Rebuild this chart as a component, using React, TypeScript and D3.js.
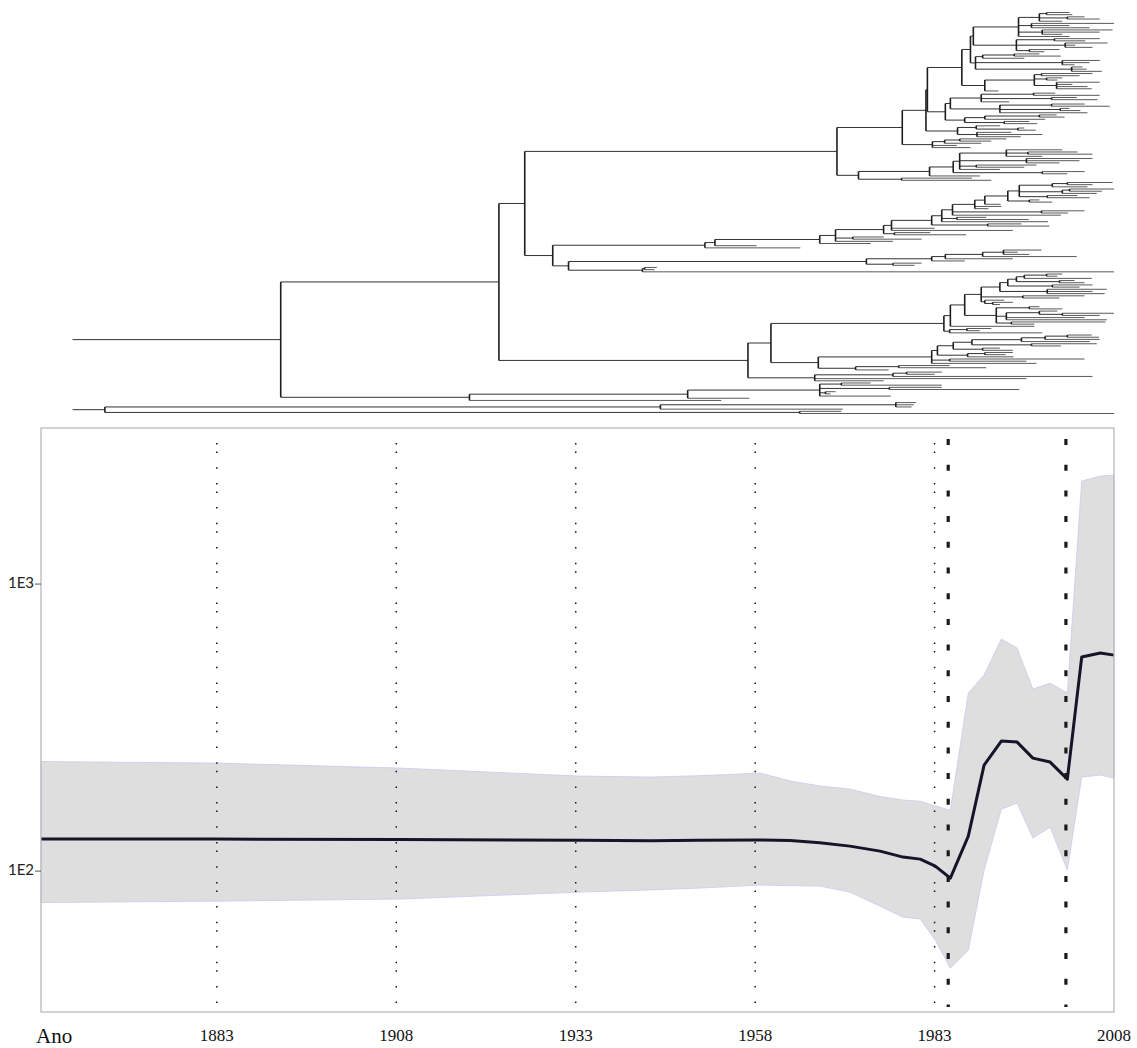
import React from "react";
import * as d3 from "d3";

const WIDTH = 1137;
const HEIGHT = 1048;

// Bayesian skyline: effective population size through time (median and 95% HPD)
const years = [
  1858.5, 1883.0, 1908.5, 1933.6, 1943.4, 1950.3, 1958.7, 1962.9, 1967.0, 1971.2,
  1975.4, 1978.6, 1981.0, 1983.1, 1985.2, 1987.7, 1989.9, 1992.3, 1994.5, 1996.7,
  1999.1, 2001.5, 2003.5, 2006.1, 2008.0,
];
const medianNe = [
  129.3, 129.3, 128.8, 128.0, 127.5, 128.0, 128.3, 127.8, 125.5, 122.2,
  117.4, 111.9, 110.1, 104.1, 94.5, 132.4, 234.0, 283.8, 281.5, 247.6,
  239.8, 209.2, 556.8, 575.0, 565.6,
];
const upperNe = [
  240.8, 237.9, 228.5, 214.3, 212.6, 215.0, 219.5, 206.0, 198.0, 193.1,
  182.0, 176.8, 175.3, 168.5, 163.1, 417.1, 481.8, 643.3, 598.4, 430.6,
  451.9, 417.1, 2285, 2378, 2398,
];
const lowerNe = [
  77.7, 78.6, 79.9, 84.5, 86.0, 87.3, 89.4, 89.0, 88.7, 84.5,
  75.5, 69.1, 68.1, 57.5, 45.9, 53.0, 100.8, 164.4, 172.6, 130.3,
  142.3, 100.8, 212.6, 216.0, 210.9,
];

const yearTicks = [1883, 1908, 1933, 1958, 1983, 2008];
const gridYears = [1883, 1908, 1933, 1958, 1983];
const eventYears = [1984.9, 2001.3];
const neTicks = [1000, 100];
const neTickLabels = ["1E3", "1E2"];
const axisTitle = "Ano";

// Dated phylogeny. Newick-like clades where the number after ':' is the
// calendar year of the node (not a branch length).
const cladeA =
  "((((((:2001.8,:2002.2):1998.6,(:2003.9,:2006.0):2001.5,:2000.8):1997.6,(:2008.0,:2001.8,:2004.6):1996.5,(:2007.8,:2006.0,:2000.8):1998.0,:2001.8):1994.7," +
  "((:2006.0,:2004.0):1999.7,(:2007.1,:2002.6,:2005.0):2001.2,(:2000.4,:1998.3):1996.2):1994.4):1988.4," +
  "(((:1997.6,:2000.6):1994.1,:1995.5):1989.7,(:2006.0,:2004.6,:2002.5):2000.8,(:2003.6,:2004.2,:2006.3):2002.1):1988.7):1988.0," +
  "(((:2005.0,:2003.2):1997.9,(:2000.8,:2000.1):1998.6,(:2006.0,:2002.2,:2004.3,:2004.9):2000.0):1996.9,:1991.9):1990.0):1986.8";
const cladeB =
  "((((:1999.8,:2006.0):1996.8,(:2002.8,:2005.7):1999.3,:1993.4):1989.5,((:2003.9,:2007.4):1999.3,(:2001.8,:2003.3):2000.5,:2004.3):1992.1):1985.2," +
  "(((:2000.0,:2001.1):1997.6,:1998.4):1990.0,(:1996.2,:1997.3):1992.7):1987.2):1984.5";
const cladeB3 = "((:1992.1,(:1995.5,:1997.1):1994.6):1988.8,(:1993.7,:1998.0,:1995.0):1988.9):1986.2";
const cladeN11 = "(((:1993.0,:1990.9):1986.5,:1989.5):1984.4,:1986.1,:1988.0):1982.7";
const cladeC =
  "(((((:2000.8,(:2002.9,:2005.0):1996.0,:1998.0):1993.0,(:2005.0,:2003.2,:2000.4):1995.8,(:1997.2,:1995.5):1988.8,:1992.1):1986.5," +
  "(:2003.9,:2001.5):1998.0):1985.6,:1989.3):1982.3,(:1988.2,:1990.9):1978.4):1972.4";
// ladder-like clade: crown group, then one [node year, side branches] step per level
const cladeDCrown =
  "(((:2007.8,:2005.0):2001.5,:2004.3):1999.4,((:2008.0,:2006.3):2001.8,:2005.6):2000.8,(:2002.9,:2004.6):1998.7):1994.8";
const cladeDSteps: [string, string][] = [
  ["1993.2", "(:1997.6,:1999.4):1996.2"],
  ["1990.0", ":1992.2"],
  ["1988.6", ":1992.3,:1990.5"],
  ["1985.5", "(:2003.9,:2001.6):1997.9,:2000.6"],
  ["1984.0", "(:1990.2,:1996.1):1986.1,:1998.8"],
  ["1982.6", "(:1995.1,:1999.0):1990.4"],
  ["1977.0", ":1983.0,:1993.9"],
  ["1975.9", "(:1982.4,:1987.4):1977.4"],
  ["1969.2", "(:1975.9,:1981.2):1971.6,:1977.2"],
  ["1967.0", ":1974.1"],
  ["1952.4", ":1958.2"],
  ["1951.0", ":1964.3"],
];
const cladeE =
  "((((((:1997.9,:1994.6,:1996.2):1992.6,:2002.8):1989.7,:1993.9):1984.5,:1987.2):1982.6,(:1981.2,:1980.2):1977.2):1973.5," +
  "((:1944.3,:1944.0):1942.6,:2008.0):1942.3):1932.0";
const cladeF1 =
  "(((((((((:2000.8,:2000.1):1998.6,:2004.9):1995.5,(:2002.5,:2003.9):2000.4):1994.4,(:2005.0,:2003.2):1999.4):1993.2," +
  "(:2007.0,:2005.0,:2006.7):1998.7):1992.1,(:2003.9,:2000.4):1995.3,(:1992.7,(:1993.9,:1992.1):1991.1):1990.0):1989.5," +
  "((:1997.6,:2000.8):1996.2,((:2000.1,(:2008.0,:2006.0):2000.8):1997.6,:2003.9,:2007.0):1993.0,(:2006.8,:1996.9):1993.7):1991.6):1987.2," +
  ":1996.9):1985.2,((:1990.9,:1989.3):1987.5,:1998.0):1985.1):1984.3";
const cladeF2 =
  "((((((((:2004.9,:2005.9):2001.5,:2006.0):1998.4,:2004.6):1995.1,(:2005.6,:2000.6):1996.5):1988.2,(:1992.1,:1993.9):1989.7):1985.6," +
  "((:1993.9,:1992.9):1990.0,:1994.0):1987.6):1983.4,(:2003.9,:1995.8):1985.1,:1997.2):1982.6," +
  "((:1985.1,:1990.2):1978.0,:1976.6):1972.0):1966.8";
const cladeG = "(((:1984.0,:1983.0):1979.1,:2005.0):1977.2,:1995.8,:1975.9):1966.3";
const cladeH =
  "((((:1974.1,:1984.0):1970.0,(:1984.0,:1994.8):1976.7,(:1969.2,:1968.5):1967.8,:1976.9):1967.0,:1957.2):1948.6,:1953.3):1918.2";
const cladeI = "(((:1980.4,:1980.1,:1979.8):1977.6,:1970.2):1944.8,(:1970.0,:2008.0):1964.2):1867.4";

const cladeD = cladeDSteps.reduce((acc, [date, side]) => `(${acc},${side}):${date}`, cladeDCrown);
const treeNewick =
  `((((((((${cladeA},${cladeB}):1982.0,${cladeB3}):1981.8,${cladeN11}):1978.5,${cladeC}):1969.4,` +
  `(${cladeD},${cladeE}):1929.8):1925.9,((${cladeF1},${cladeF2}):1960.2,${cladeG}):1957.0):1922.3,` +
  `${cladeH}):1891.9,${cladeI}):1862.9`;

type TNode = { date: number; children: TNode[] };

function parseDated(src: string): TNode {
  const s = src.replace(/\s+/g, "");
  let i = 0;
  function node(): TNode {
    const children: TNode[] = [];
    if (s[i] === "(") {
      i++;
      children.push(node());
      while (s[i] === ",") {
        i++;
        children.push(node());
      }
      i++; // ')'
    }
    i++; // ':'
    const start = i;
    while (i < s.length && /[0-9.]/.test(s[i])) i++;
    return { date: parseFloat(s.slice(start, i)), children };
  }
  return node();
}

// layout boxes
const plot = { left: 41, right: 1114, top: 428, bottom: 1012 };
const treeBox = { top: 12.5, bottom: 413.5 };

export default function App() {
  const x = d3.scaleLinear().domain([1858.5, 2008]).range([plot.left, plot.right]);
  const y = d3.scaleLog().domain([32.3, 3497]).range([plot.bottom, plot.top]);

  // tree layout: leaves evenly spaced, internal nodes centred on outer children
  const root = d3.hierarchy<TNode>(parseDated(treeNewick), (d) => (d.children.length ? d.children : null));
  const leaves = root.leaves();
  const yLeaf = d3.scaleLinear().domain([0, leaves.length - 1]).range([treeBox.top, treeBox.bottom]);
  const ty = new Map<any, number>();
  leaves.forEach((l, i) => ty.set(l, yLeaf(i)));
  root.eachAfter((n) => {
    if (n.children) {
      const a = ty.get(n.children[0])!;
      const b = ty.get(n.children[n.children.length - 1])!;
      ty.set(n, (a + b) / 2);
    }
  });

  const hSegs: { x1: number; x2: number; y: number; leaf: boolean }[] = [];
  const vSegs: { x: number; y1: number; y2: number }[] = [];
  root.each((n) => {
    if (n.parent) {
      hSegs.push({ x1: x(n.parent.data.date), x2: x(n.data.date), y: ty.get(n)!, leaf: !n.children });
    }
    if (n.children && n.parent) {
      vSegs.push({
        x: x(n.data.date),
        y1: ty.get(n.children[0])!,
        y2: ty.get(n.children[n.children.length - 1])!,
      });
    }
  });

  const idx = years.map((_, i) => i);
  const band = d3
    .area<number>()
    .x((i) => x(years[i]))
    .y0((i) => y(lowerNe[i]))
    .y1((i) => y(upperNe[i]));
  const medianLine = d3
    .line<number>()
    .x((i) => x(years[i]))
    .y((i) => y(medianNe[i]));

  return (
    <svg
      width={WIDTH}
      height={HEIGHT}
      style={{ position: "absolute", left: 0, top: 0, background: "#fff" }}
    >
      <rect x={0} y={0} width={WIDTH} height={HEIGHT} fill="#fff" />

      {/* phylogeny */}
      <g fill="none">
        {hSegs.map((s, i) => (
          <line
            key={"h" + i}
            x1={s.x1}
            x2={s.x2}
            y1={s.y}
            y2={s.y}
            stroke={s.leaf ? "#5a5a5a" : "#333"}
            strokeWidth={1}
          />
        ))}
        {vSegs.map((s, i) => (
          <line key={"v" + i} x1={s.x} x2={s.x} y1={s.y1} y2={s.y2} stroke="#1e1e1e" strokeWidth={1.6} />
        ))}
      </g>

      {/* skyline */}
      <path d={band(idx) ?? ""} fill="#dedede" stroke="#c9c9f2" strokeWidth={0.8} />
      <path d={medianLine(idx) ?? ""} fill="none" stroke="#15152a" strokeWidth={3} strokeLinejoin="round" />

      {gridYears.map((yr) => (
        <line
          key={"g" + yr}
          x1={x(yr)}
          x2={x(yr)}
          y1={443}
          y2={1010}
          stroke="#111"
          strokeWidth={1.5}
          strokeDasharray="1.5 7 1.5 14.2 1.5 14.2"
        />
      ))}
      {eventYears.map((yr) => (
        <line
          key={"e" + yr}
          x1={x(yr)}
          x2={x(yr)}
          y1={439}
          y2={1007}
          stroke="#1a1a1a"
          strokeWidth={3.2}
          strokeDasharray="6 19.7"
        />
      ))}

      <rect
        x={plot.left}
        y={plot.top}
        width={plot.right - plot.left}
        height={plot.bottom - plot.top}
        fill="none"
        stroke="#b4b4b4"
        strokeWidth={1.2}
      />

      {/* y axis */}
      {neTicks.map((v, i) => (
        <g key={"t" + v}>
          <line x1={plot.left - 6} x2={plot.left} y1={y(v)} y2={y(v)} stroke="#555" strokeWidth={1} />
          <text
            x={plot.left - 7}
            y={y(v)}
            textAnchor="end"
            dominantBaseline="middle"
            fontFamily="Lato, 'DejaVu Sans', sans-serif"
            fontSize={15}
            fill="#222"
          >
            {neTickLabels[i]}
          </text>
        </g>
      ))}

      {/* x axis labels */}
      <text x={36} y={1043} fontFamily="'Liberation Serif', serif" fontSize={21} fill="#111">
        {axisTitle}
      </text>
      {yearTicks.map((yr) => (
        <text
          key={"x" + yr}
          x={x(yr)}
          y={1041}
          textAnchor="middle"
          fontFamily="'Liberation Serif', serif"
          fontSize={17}
          fill="#111"
        >
          {yr}
        </text>
      ))}
    </svg>
  );
}
